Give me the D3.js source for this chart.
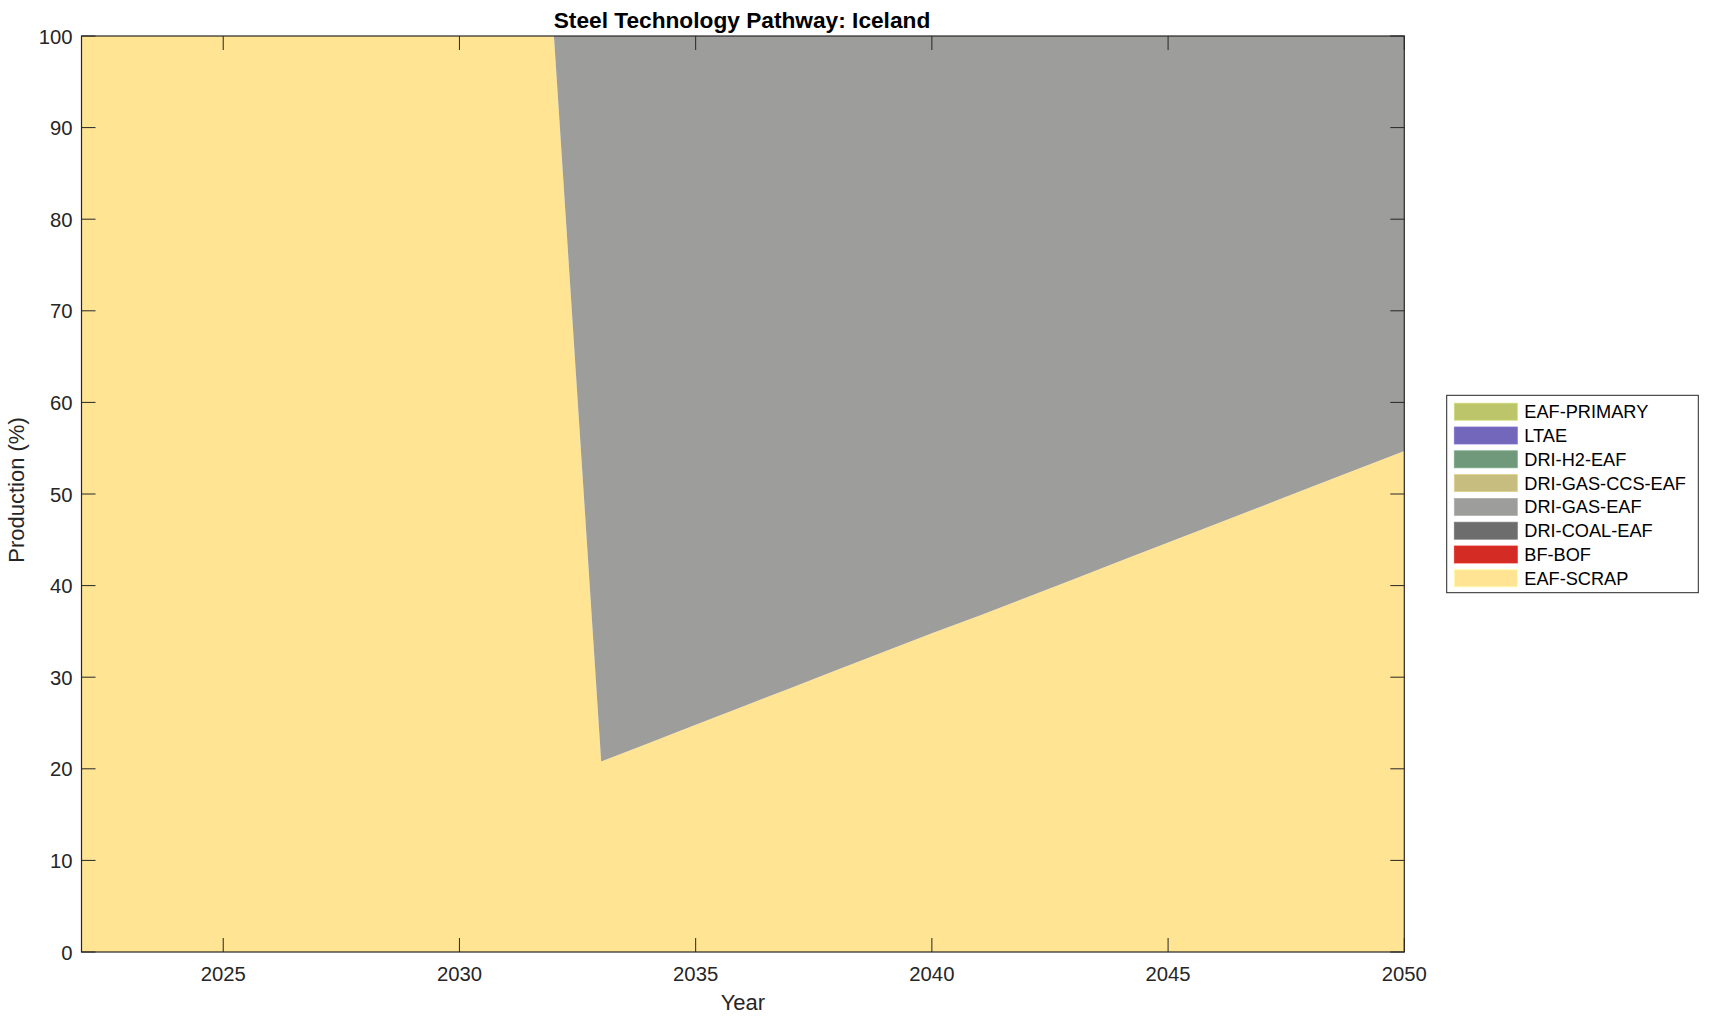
<!DOCTYPE html>
<html><head><meta charset="utf-8">
<script src="https://cdn.jsdelivr.net/npm/d3@7"></script>
<style>
body{margin:0;background:#fff;}
text{font-family:"Liberation Sans",Arial,Helvetica,sans-serif;fill:#262626;}
</style></head>
<body><svg id="c" width="1709" height="1021"></svg>
<script>
const years = [2022,2023,2024,2025,2026,2027,2028,2029,2030,2031,2032,2033,2034,2035,2036,2037,2038,2039,2040,2041,2042,2043,2044,2045,2046,2047,2048,2049,2050];
const techs = ["EAF-SCRAP","BF-BOF","DRI-COAL-EAF","DRI-GAS-EAF","DRI-GAS-CCS-EAF","DRI-H2-EAF","LTAE","EAF-PRIMARY"];
const colors = ["#FFE494","#D42B25","#6D6D6D","#9D9D9C","#C6BD7E","#6F997A","#7367BC","#BCC56A"];
const eafScrap   = [100,100,100,100,100,100,100,100,100,100,100,20.8,22.8,24.8,26.8,28.8,30.8,32.8,34.8,36.7,38.7,40.7,42.7,44.7,46.7,48.7,50.7,52.7,54.7];
const bfBof      = [0,0,0,0,0,0,0,0,0,0,0,0,0,0,0,0,0,0,0,0,0,0,0,0,0,0,0,0,0];
const driCoalEaf = [0,0,0,0,0,0,0,0,0,0,0,0,0,0,0,0,0,0,0,0,0,0,0,0,0,0,0,0,0];
const driGasEaf  = [0,0,0,0,0,0,0,0,0,0,0,79.2,77.2,75.2,73.2,71.2,69.2,67.2,65.2,63.3,61.3,59.3,57.3,55.3,53.3,51.3,49.3,47.3,45.3];
const driGasCcs  = [0,0,0,0,0,0,0,0,0,0,0,0,0,0,0,0,0,0,0,0,0,0,0,0,0,0,0,0,0];
const driH2Eaf   = [0,0,0,0,0,0,0,0,0,0,0,0,0,0,0,0,0,0,0,0,0,0,0,0,0,0,0,0,0];
const ltae       = [0,0,0,0,0,0,0,0,0,0,0,0,0,0,0,0,0,0,0,0,0,0,0,0,0,0,0,0,0];
const eafPrimary = [0,0,0,0,0,0,0,0,0,0,0,0,0,0,0,0,0,0,0,0,0,0,0,0,0,0,0,0,0];
const xTicks = [2025,2030,2035,2040,2045,2050];
const yTicks = [0,10,20,30,40,50,60,70,80,90,100];

const series = [eafScrap,bfBof,driCoalEaf,driGasEaf,driGasCcs,driH2Eaf,ltae,eafPrimary];
const rows = years.map((y,i)=>{const r={year:y}; techs.forEach((t,k)=>r[t]=series[k][i]); return r;});

const L=81.5,R=1404.3,T=36,B=952;
const svg=d3.select("#c");
const x=d3.scaleLinear().domain([2022,2050]).range([L,R]);
const y=d3.scaleLinear().domain([0,100]).range([B,T]);
const stack=d3.stack().keys(techs)(rows);
const area=d3.area().x(d=>x(d.data.year)).y0(d=>y(d[0])).y1(d=>y(d[1]));
svg.append("clipPath").attr("id","pc").append("rect").attr("x",L).attr("y",T).attr("width",R-L).attr("height",B-T);
svg.append("g").attr("clip-path","url(#pc)").selectAll("path").data(stack).join("path")
  .attr("d",area).attr("fill",(d,i)=>colors[i]).attr("stroke","none");

const ax=svg.append("g");
const tl=14;
ax.selectAll(".xb").data(xTicks).join("line").attr("x1",d=>x(d)).attr("x2",d=>x(d)).attr("y1",B).attr("y2",B-tl).attr("stroke","#262626");
ax.selectAll(".xt").data(xTicks).join("line").attr("x1",d=>x(d)).attr("x2",d=>x(d)).attr("y1",T).attr("y2",T+tl).attr("stroke","#262626");
ax.selectAll(".yl").data(yTicks).join("line").attr("x1",L).attr("x2",L+tl).attr("y1",d=>y(d)).attr("y2",d=>y(d)).attr("stroke","#262626");
ax.selectAll(".yr").data(yTicks).join("line").attr("x1",R).attr("x2",R-tl).attr("y1",d=>y(d)).attr("y2",d=>y(d)).attr("stroke","#262626");
svg.append("rect").attr("x",L).attr("y",T).attr("width",R-L).attr("height",B-T).attr("fill","none").attr("stroke","#262626").attr("stroke-width",1.2);

svg.selectAll(".xtl").data(xTicks).join("text").attr("x",d=>x(d)).attr("y",981).attr("text-anchor","middle").attr("font-size",20.3).text(d=>d);
svg.selectAll(".ytl").data(yTicks).join("text").attr("x",72.5).attr("y",d=>y(d)+7.5).attr("text-anchor","end").attr("font-size",20.3).text(d=>d);

svg.append("text").attr("x",(L+R)/2).attr("y",1010).attr("text-anchor","middle").attr("font-size",22).text("Year");
svg.append("text").attr("transform","translate(24,490) rotate(-90)").attr("text-anchor","middle").attr("font-size",22).text("Production (%)");
svg.append("text").attr("x",742).attr("y",27.5).attr("text-anchor","middle").attr("font-size",22.7).attr("font-weight","bold").style("fill","#000").text("Steel Technology Pathway: Iceland");

const lg=svg.append("g");
lg.append("rect").attr("x",1446.7).attr("y",395.3).attr("width",251.6).attr("height",197.4).attr("fill","#fff").attr("stroke","#262626").attr("stroke-width",1);
const legItems=techs.map((t,i)=>({t,c:colors[i]})).reverse();
legItems.forEach((d,i)=>{
  const cy=411.7+i*23.8;
  lg.append("rect").attr("x",1454.3).attr("y",cy-8.5).attr("width",63).attr("height",17).attr("fill",d.c).attr("stroke",d3.color(d.c).brighter(0.3)).attr("stroke-width",0.8);
  lg.append("text").attr("x",1524.3).attr("y",cy+6.5).attr("font-size",18.2).style("fill","#000").text(d.t);
});
</script></body></html>
